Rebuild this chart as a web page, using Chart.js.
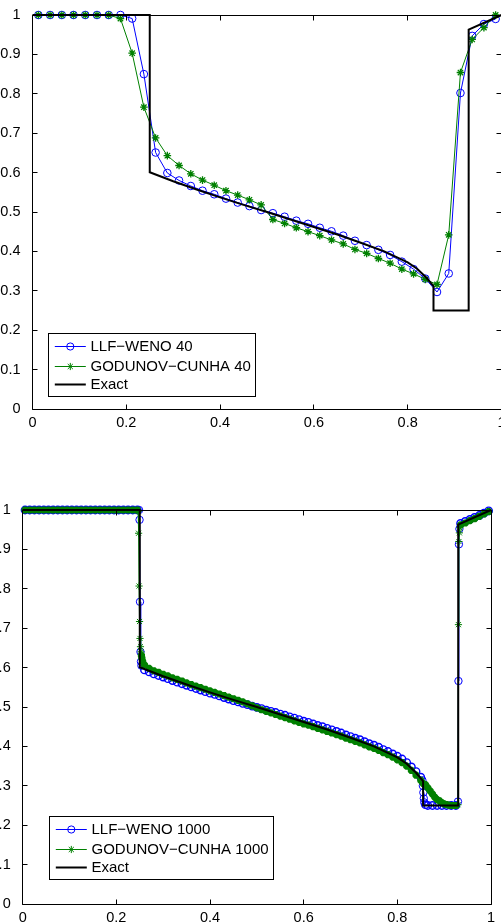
<!DOCTYPE html>
<html>
<head>
<meta charset="utf-8">
<script src="https://cdn.jsdelivr.net/npm/chart.js@4.4.1/dist/chart.umd.min.js"></script>
<style>
  html, body { margin:0; padding:0; background:#fff; }
  body { width:501px; height:923px; overflow:hidden; position:relative; }
  canvas { position:absolute; }
  #c1 { left:0; top:0; }
  #c2 { left:-10px; top:480px; }
</style>
</head>
<body>
<canvas id="c1" width="520" height="440"></canvas>
<canvas id="c2" width="530" height="443"></canvas>
<script>
// ---- axis ticks ----
const xTickVals = [0, 0.2, 0.4, 0.6, 0.8, 1];
const xTickLabels = ['0', '0.2', '0.4', '0.6', '0.8', '1'];
const yTickVals = [0, 0.1, 0.2, 0.3, 0.4, 0.5, 0.6, 0.7, 0.8, 0.9, 1];
const yTickLabels = ['0', '0.1', '0.2', '0.3', '0.4', '0.5', '0.6', '0.7', '0.8', '0.9', '1'];

// ---- exact solution (both panels) ----
const exactX = [0, 0.25, 0.25, 0.30, 0.35, 0.40, 0.45, 0.50, 0.55, 0.60, 0.65, 0.70, 0.75, 0.80, 0.82, 0.84, 0.855, 0.855, 0.93, 0.93, 1.0];
const exactY = [1, 1, 0.601, 0.578, 0.557, 0.537, 0.518, 0.500, 0.481, 0.462, 0.443, 0.422, 0.400, 0.372, 0.356, 0.333, 0.312, 0.25, 0.25, 0.963, 1.0];

// ---- 40 cells ----
const x40 = [0.0125,0.0375,0.0625,0.0875,0.1125,0.1375,0.1625,0.1875,0.2125,0.2375,
             0.2625,0.2875,0.3125,0.3375,0.3625,0.3875,0.4125,0.4375,0.4625,0.4875,
             0.5125,0.5375,0.5625,0.5875,0.6125,0.6375,0.6625,0.6875,0.7125,0.7375,
             0.7625,0.7875,0.8125,0.8375,0.8625,0.8875,0.9125,0.9375,0.9625,0.9875];
const weno40 = [1,1,1,1,1,1,1,1,0.991,0.850,
                0.651,0.599,0.580,0.566,0.554,0.545,0.534,0.524,0.515,0.505,
                0.497,0.488,0.478,0.470,0.460,0.451,0.440,0.427,0.416,0.404,
                0.391,0.374,0.355,0.331,0.297,0.344,0.802,0.947,0.977,0.990];
const godunov40 = [1,1,1,1,1,1,1,0.991,0.903,0.766,
                   0.688,0.643,0.618,0.597,0.581,0.568,0.554,0.543,0.531,0.518,
                   0.481,0.471,0.460,0.450,0.440,0.429,0.419,0.405,0.395,0.382,
                   0.370,0.355,0.343,0.329,0.316,0.442,0.854,0.938,0.968,1.0];

// ---- 1000 cells ----
const weno1000X = [0.005,0.015,0.025,0.035,0.045,0.055,0.065,0.075,0.085,0.095,0.105,0.115,0.125,0.135,0.145,0.155,0.165,0.175,0.185,0.195,0.205,0.215,0.225,0.235,0.245,
  0.2485,0.2495,0.2505,0.2515,0.2525,0.2535,
  0.26,0.27,0.28,0.29,0.30,0.31,0.32,0.33,0.34,0.35,0.36,0.37,0.38,0.39,0.40,0.41,0.42,0.43,0.44,0.45,0.46,0.47,0.48,0.49,0.50,0.51,0.52,0.53,0.54,0.55,
  0.56,0.57,0.58,0.59,0.60,0.61,0.62,0.63,0.64,0.65,0.66,0.67,0.68,0.69,0.70,0.71,0.72,0.73,0.74,0.75,0.76,0.77,0.78,0.79,0.80,0.81,0.82,0.83,0.84,0.85,
  0.8535,0.8545,0.8555,0.8565,0.8575,0.86,
  0.865,0.875,0.885,0.895,0.905,0.915,0.925,
  0.9295,0.9305,0.9315,0.9325,
  0.935,0.945,0.955,0.965,0.975,0.985,0.995];
const weno1000 = [1,1,1,1,1,1,1,1,1,1,1,1,1,1,1,1,1,1,1,1,1,1,1,1,1,
  1,0.975,0.767,0.640,0.615,0.605,
  0.594,0.589,0.584,0.580,0.576,0.572,0.567,0.563,0.559,0.555,0.551,0.547,0.543,0.539,0.535,0.532,0.528,0.524,0.520,0.516,0.513,0.509,0.506,0.502,0.499,0.496,0.492,0.489,0.486,0.482,
  0.479,0.475,0.472,0.468,0.464,0.461,0.457,0.453,0.450,0.446,0.442,0.438,0.434,0.429,0.425,0.421,0.417,0.412,0.407,0.403,0.398,0.392,0.387,0.381,0.375,0.368,0.359,0.348,0.336,0.322,
  0.314,0.300,0.283,0.268,0.258,0.252,
  0.25,0.25,0.25,0.25,0.25,0.25,0.25,
  0.26,0.566,0.913,0.952,
  0.966,0.971,0.976,0.981,0.986,0.992,0.998];

const godunov1000X = [0.005,0.015,0.025,0.035,0.045,0.055,0.065,0.075,0.085,0.095,0.105,0.115,0.125,0.135,0.145,0.155,0.165,0.175,0.185,0.195,0.205,0.215,0.225,0.235,0.245,
  0.2465,0.2475,0.2485,0.2495,0.2505,0.2515,0.2525,0.2535,0.2545,0.256,
  0.26,0.27,0.28,0.29,0.30,0.31,0.32,0.33,0.34,0.35,0.36,0.37,0.38,0.39,0.40,0.41,0.42,0.43,0.44,0.45,0.46,0.47,0.48,0.49,0.50,0.51,0.52,0.53,0.54,0.55,
  0.56,0.57,0.58,0.59,0.60,0.61,0.62,0.63,0.64,0.65,0.66,0.67,0.68,0.69,0.70,0.71,0.72,0.73,0.74,0.75,0.76,0.77,0.78,0.79,0.80,0.81,0.82,0.83,0.84,0.85,
  0.855,0.86,0.865,0.87,0.875,0.88,0.885,0.89,0.895,0.90,0.905,0.91,0.915,0.92,0.925,0.9295,
  0.9305,0.9315,0.9325,0.9335,
  0.935,0.945,0.955,0.965,0.975,0.985,0.995];
const godunov1000 = [1,1,1,1,1,1,1,1,1,1,1,1,1,1,1,1,1,1,1,1,1,1,1,1,1,
  0.996,0.941,0.807,0.717,0.674,0.653,0.640,0.631,0.624,0.616,
  0.607,0.598,0.592,0.588,0.583,0.579,0.574,0.570,0.566,0.561,0.557,0.553,0.549,0.545,0.541,0.537,0.533,0.529,0.525,0.521,0.517,0.513,0.508,0.503,0.498,0.493,0.489,0.485,0.481,0.477,
  0.473,0.469,0.465,0.461,0.457,0.454,0.450,0.446,0.442,0.438,0.434,0.430,0.426,0.421,0.417,0.413,0.409,0.404,0.399,0.395,0.390,0.384,0.379,0.373,0.366,0.359,0.350,0.339,0.327,0.314,
  0.306,0.303,0.295,0.287,0.279,0.271,0.265,0.262,0.257,0.254,0.252,0.251,0.250,0.250,0.250,0.252,
  0.709,0.920,0.942,0.955,
  0.962,0.967,0.973,0.978,0.984,0.990,0.996];

const pts = (xs, ys) => xs.map((x, i) => ({x, y: ys[i]}));
const FONT = '"Liberation Sans", Arial, Helvetica, sans-serif';

// marks inside a shock (x step < 0.002) stay thin, the smooth band gets heavier strokes
function markWidth(thin, thick) {
  return c => {
    const d = c.dataset.data, i = c.dataIndex;
    if (!d || !d[i]) return thin;
    const near = (j) => d[j] && Math.abs(d[j].x - d[i].x) < 0.002 && Math.abs(d[j].y - d[i].y) > 0.01;
    return (near(i - 1) || near(i + 1)) ? thin : thick;
  };
}

// box, inward ticks on all four sides (matlab look)
const matlabAxes = {
  id: 'matlabAxes',
  afterDatasetsDraw(chart) {
    const {ctx, chartArea: a, scales: {x, y}} = chart;
    const L = Math.floor(a.left) + 0.5, R = Math.floor(a.right) + 0.5;
    const T = Math.floor(a.top) + 0.5, B = Math.floor(a.bottom) + 0.5;
    const tl = 5;
    ctx.save();
    ctx.strokeStyle = '#000'; ctx.lineWidth = 1;
    ctx.beginPath();
    ctx.rect(L, T, R - L, B - T);
    xTickVals.forEach(v => {
      const px = Math.floor(x.getPixelForValue(v)) + 0.5;
      ctx.moveTo(px, B); ctx.lineTo(px, B - tl);
      ctx.moveTo(px, T); ctx.lineTo(px, T + tl);
    });
    yTickVals.forEach(v => {
      const py = Math.floor(y.getPixelForValue(v)) + 0.5;
      ctx.moveTo(L, py); ctx.lineTo(L + tl, py);
      ctx.moveTo(R, py); ctx.lineTo(R - tl, py);
    });
    ctx.stroke();
    ctx.restore();
  }
};

// legend box inside the plot, lower left
const boxLegend = {
  id: 'boxLegend',
  afterDraw(chart, args, o) {
    const {ctx, chartArea: a} = chart;
    const items = chart.data.datasets;
    ctx.save();
    ctx.font = o.font;
    const maxW = Math.max(...items.map(d => ctx.measureText(d.label).width));
    const x0 = Math.floor(a.left + o.left) + 0.5;
    const y0 = Math.floor(a.bottom - o.bottom - o.height) + 0.5;
    const w = Math.round(o.textX + maxW + o.padRight);
    ctx.fillStyle = '#fff';
    ctx.fillRect(x0, y0, w, o.height);
    ctx.strokeStyle = '#000'; ctx.lineWidth = 1;
    ctx.strokeRect(x0, y0, w, o.height);
    items.forEach((d, i) => {
      const yy = Math.round(y0 + o.rows[i]) + 0.5;
      ctx.strokeStyle = d.borderColor; ctx.lineWidth = d.borderWidth;
      ctx.beginPath(); ctx.moveTo(x0 + o.line[0], yy); ctx.lineTo(x0 + o.line[1], yy); ctx.stroke();
      if (d.pointRadius > 0) {
        ctx.strokeStyle = d.borderColor; ctx.fillStyle = 'rgba(0,0,0,0)'; ctx.lineWidth = 1;
        Chart.helpers.drawPoint(ctx, {pointStyle: d.pointStyle, radius: o.markR, borderWidth: 1, rotation: 0},
          x0 + (o.line[0] + o.line[1]) / 2, yy);
      }
      ctx.fillStyle = '#000'; ctx.textBaseline = 'middle'; ctx.textAlign = 'left';
      ctx.fillText(d.label, x0 + o.textX, yy + 0.5);
    });
    ctx.restore();
  }
};

function makeChart(id, sets, opt) {
  return new Chart(document.getElementById(id), {
    type: 'line',
    data: {
      datasets: [
        { label: sets.names[0], data: sets.blue, borderColor: '#0000ff', borderWidth: 1,
          pointStyle: 'circle', pointRadius: opt.r, pointBorderWidth: opt.bw,
          pointBackgroundColor: 'rgba(0,0,0,0)', pointBorderColor: '#0000ff', order: 3, clip: false },
        { label: sets.names[1], data: sets.green, borderColor: '#008000', borderWidth: 1,
          pointStyle: 'star', pointRadius: opt.rs, pointBorderWidth: opt.bws,
          pointBackgroundColor: 'rgba(0,0,0,0)', pointBorderColor: '#008000', order: 2, clip: false },
        { label: 'Exact', data: pts(exactX, exactY), borderColor: '#000000', borderWidth: 2,
          pointRadius: 0, order: 1, clip: false }
      ]
    },
    options: {
      responsive: false, animation: false, events: [],
      layout: { padding: opt.pad },
      elements: { line: { tension: 0 } },
      plugins: { legend: { display: false }, tooltip: { enabled: false },
        boxLegend: opt.legend },
      scales: {
        x: { type: 'linear', min: 0, max: 1,
          grid: { display: false }, border: { display: false },
          afterBuildTicks: s => { s.ticks = xTickVals.map(v => ({value: v})); },
          afterFit: s => { s.height = opt.xh; },
          ticks: { padding: opt.xpad, maxRotation: 0, color: '#000',
            font: { family: FONT, size: 14.5 },
            callback: (v, i) => xTickLabels[i] } },
        y: { type: 'linear', min: 0, max: 1,
          grid: { display: false }, border: { display: false },
          afterBuildTicks: s => { s.ticks = yTickVals.map(v => ({value: v})); },
          afterFit: s => { s.width = opt.yw; },
          ticks: { padding: 4, color: '#000',
            font: { family: FONT, size: 14.5 },
            callback: (v, i) => yTickLabels[i] } }
      }
    },
    plugins: [matlabAxes, boxLegend]
  });
}

const legendInner = { font: '15px ' + FONT, height: 63, rows: [12.3, 32.3, 50.6], line: [6.3, 37.3], textX: 42, padRight: 4.5, markR: 3.6 };

makeChart('c1',
  { names: ['LLF\u2212WENO 40', 'GODUNOV\u2212CUNHA 40'], blue: pts(x40, weno40), green: pts(x40, godunov40) },
  { pad: { left: 0, right: 18.5, top: 15, bottom: 0 }, yw: 32.5, xh: 31, xpad: -3, r: 3.8, rs: 3.8, bw: 1, bws: 1.3,
    legend: Object.assign({ left: 16.2, bottom: 13 }, legendInner) });

makeChart('c2',
  { names: ['LLF\u2212WENO 1000', 'GODUNOV\u2212CUNHA 1000'], blue: pts(weno1000X, weno1000), green: pts(godunov1000X, godunov1000) },
  { pad: { left: 0, right: 29, top: 30, bottom: 0 }, yw: 32.7, xh: 19, xpad: -3, r: 3.7, rs: 3.6,
    bw: markWidth(1, 1.4), bws: markWidth(1, 2.6),
    legend: Object.assign({ left: 26.6, bottom: 25 }, legendInner) });
</script>
</body>
</html>
